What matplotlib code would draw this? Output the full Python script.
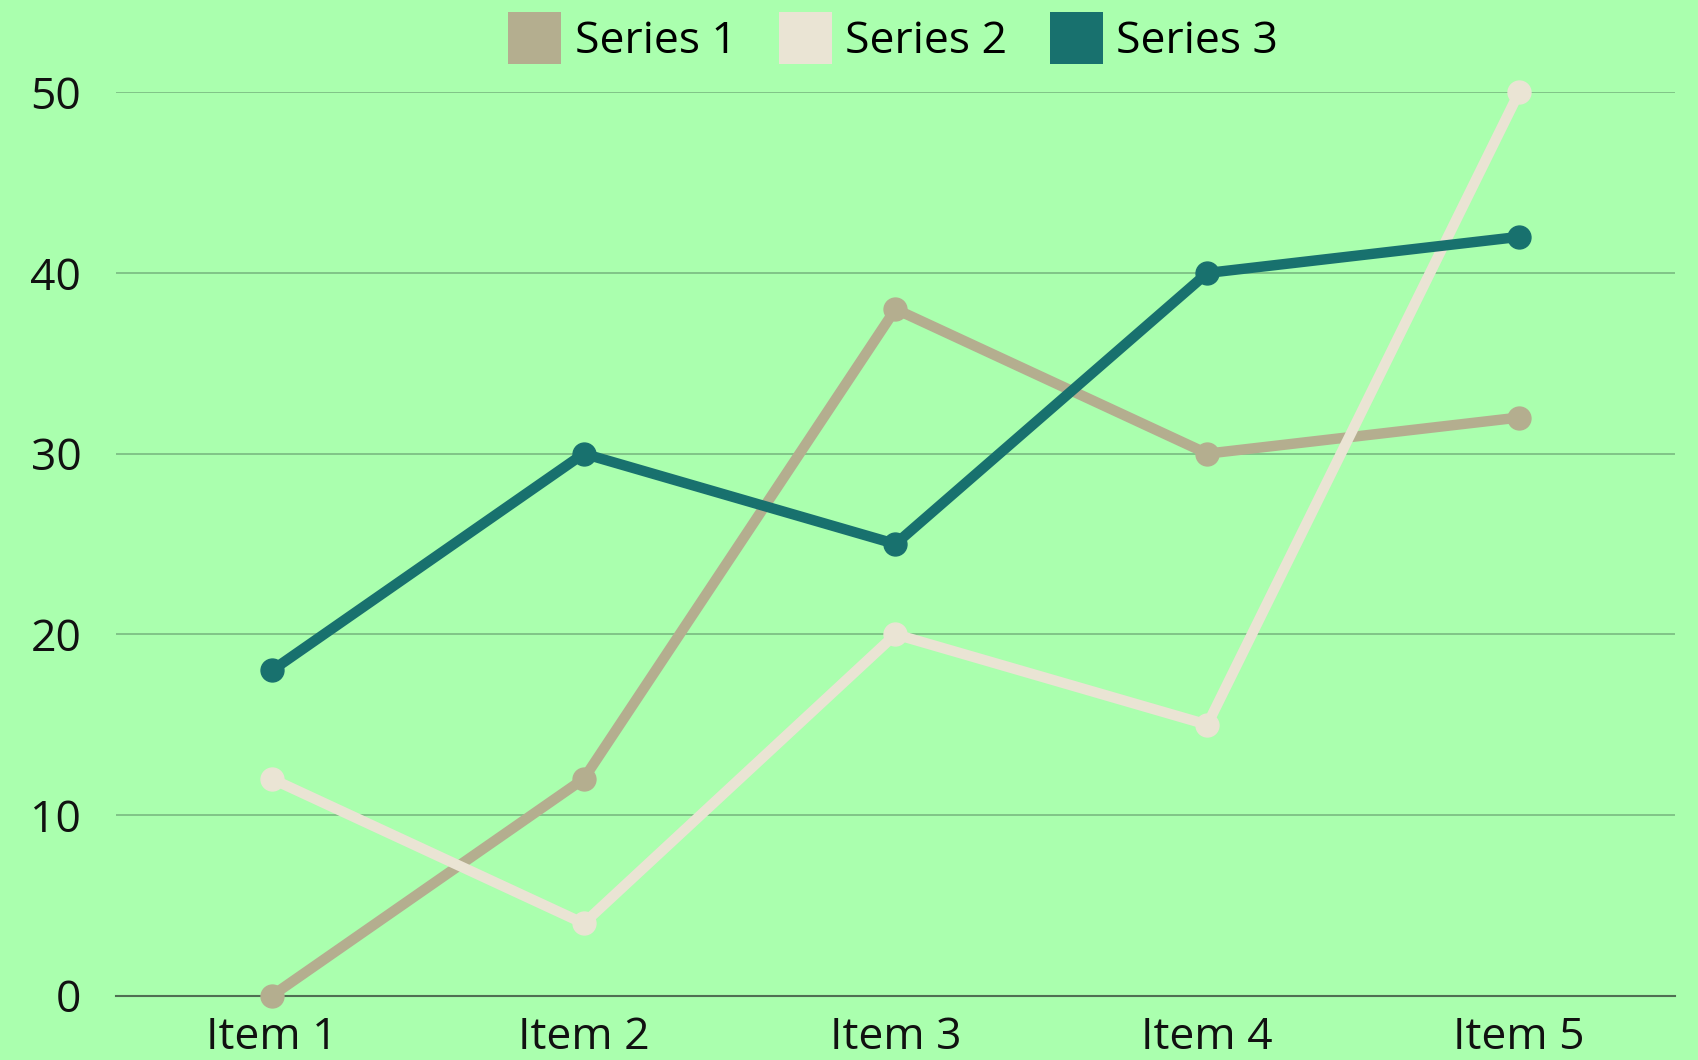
import matplotlib
matplotlib.use("Agg")
import matplotlib.pyplot as plt
from matplotlib.patches import Patch

categories = ["Item 1", "Item 2", "Item 3", "Item 4", "Item 5"]
series_names = ["Series 1", "Series 2", "Series 3"]
series1 = [0, 12, 38, 30, 32]
series2 = [12, 4, 20, 15, 50]
series3 = [18, 30, 25, 40, 42]
colors = ["#b4ae8f", "#eae4d4", "#18716e"]
yticks = [0, 10, 20, 30, 40, 50]

plt.rcParams['font.family'] = ['Open Sans', 'DejaVu Sans']
bg = "#aaffae"

fig = plt.figure(figsize=(16.99, 10.60), dpi=100, facecolor=bg)
ax = fig.add_axes([116/1699, 1-995.7/1060, (1675-116)/1699, (995.7-92.3)/1060])
ax.set_facecolor(bg)

x = list(range(len(categories)))
for vals, c in zip([series1, series2, series3], colors):
    ax.plot(x, vals, color=c, lw=7.5, marker='o', markersize=16.5,
            solid_capstyle='round', zorder=3, clip_on=False)

ax.set_xlim(-0.5, len(categories) - 0.5)
ax.set_ylim(0, 50)
ax.set_yticks(yticks)
ax.set_xticks(x)
ax.set_xticklabels(categories)
ax.yaxis.grid(True, color="#7dbf84", lw=1.3)
ax.set_axisbelow(True)
for s in ["top", "right", "left"]:
    ax.spines[s].set_visible(False)
ax.spines["bottom"].set_color("#4f6f52")
ax.spines["bottom"].set_linewidth(1.5)
ax.spines["bottom"].set_zorder(2)
ax.tick_params(axis='both', length=0, labelsize=32, colors="black")
ax.tick_params(axis='y', pad=25)
ax.tick_params(axis='x', pad=14)
for lbl in ax.get_yticklabels() + ax.get_xticklabels():
    lbl.set_color("#111111")

handles = [Patch(facecolor=c, edgecolor='none', label=n) for c, n in zip(colors, series_names)]
leg = fig.legend(handles=handles, loc='center', bbox_to_anchor=(893/1699, 1-38/1060),
                 ncol=3, frameon=False, fontsize=32, handlelength=1.2, handleheight=1.45,
                 handletextpad=0.3, columnspacing=0.95, borderpad=0, borderaxespad=0)

fig.savefig("out.png", dpi=100, facecolor=bg)
